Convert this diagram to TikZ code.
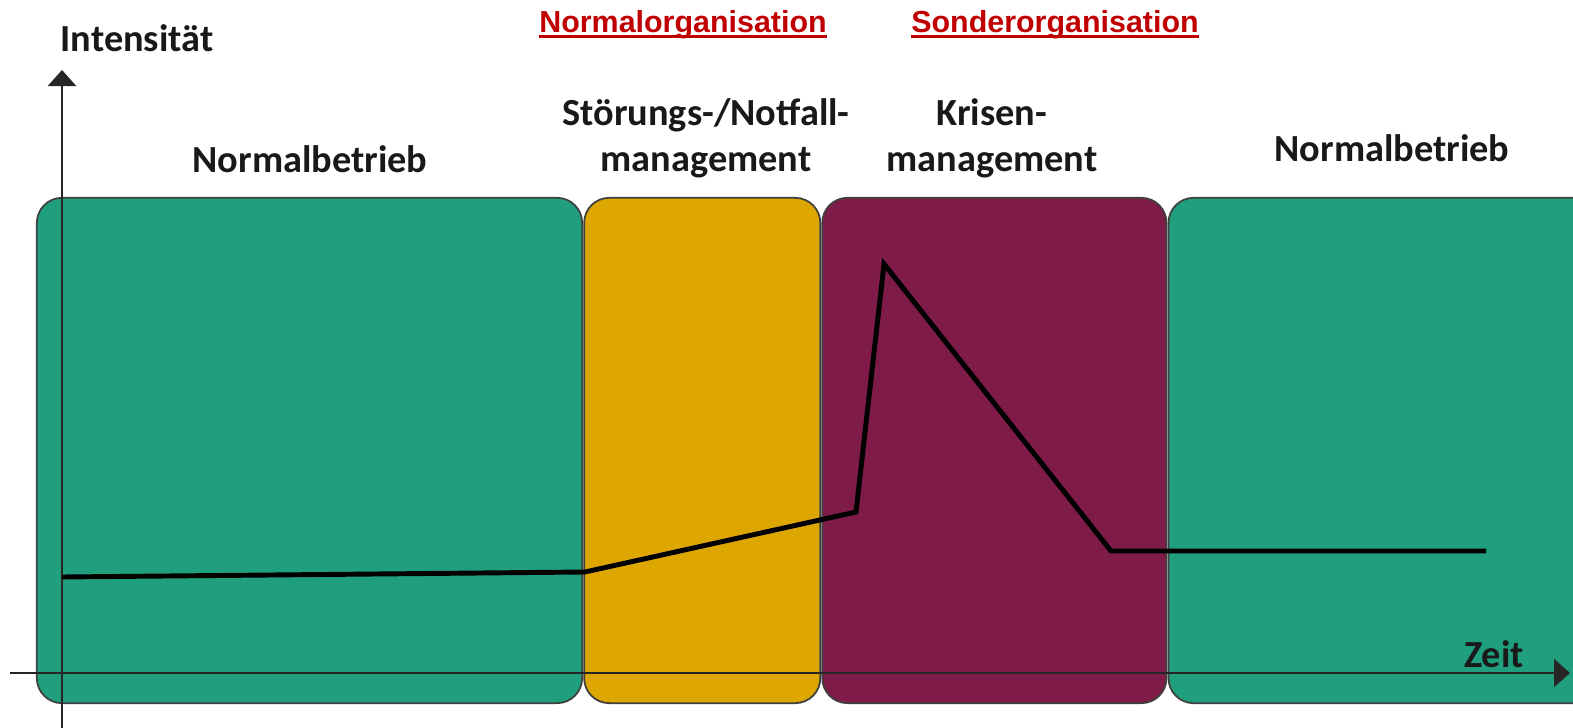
\documentclass[tikz,border=0pt]{standalone}
\usepackage{fontspec}
\setmainfont{Carlito}
\newfontfamily\headfont{Liberation Sans}
\usetikzlibrary{arrows.meta,positioning}
\definecolor{gruen}{RGB}{31,159,126}
\definecolor{gelb}{RGB}{221,166,0}
\definecolor{lila}{RGB}{126,27,72}
\definecolor{rot}{RGB}{192,0,0}
\newcommand\redline[1]{\setbox0\hbox{#1}\rlap{\rule[-1.3pt]{\wd0}{0.6pt}}\box0}
\begin{document}
\begin{tikzpicture}[x=0.01cm,y=-0.01cm,
  phase/.style={rectangle, draw=black!75, line width=0.5pt, rounded corners=0.25cm, minimum height=5.05cm, inner sep=0pt, outer sep=0pt},
  label/.style={font=\fontsize{10.9}{13.3}\selectfont\bfseries, text=black!90, align=center, inner sep=0pt, anchor=base},
  head/.style={font=\headfont\fontsize{8.65}{10}\selectfont\bfseries, text=rot, inner sep=0pt, anchor=base},
  axis/.style={draw=black!85, line width=0.7pt, -{Triangle[width=0.28cm,length=0.16cm]}},
  curve/.style={draw=black, line width=1.4pt}]
  \clip (0,0) rectangle (1573,728);

  % phases
  \node[phase, fill=gruen, minimum width=5.45cm] (normal1) at (309.5,450.5) {};
  \node[phase, fill=gelb, minimum width=2.36cm, right=0.02cm of normal1] (stoerung) {};
  \node[phase, fill=lila, minimum width=3.44cm, right=0.02cm of stoerung] (krise) {};
  \node[phase, fill=gruen, minimum width=4.32cm, right=0.02cm of krise] (normal2) {};

  % headings
  \node[head] (normorg) at (683,33) {\redline{Normalorganisation}};
  \node[head] (sondorg) at (1055,33) {\redline{Sonderorganisation}};

  % phase labels
  \node[label] (lnormal1) at (310,173) {Normalbetrieb};
  \node[label] (lstoerung) at (706,172) {Störungs-/Notfall-\\management};
  \node[label] (lkrise) at (992,172) {Krisen-\\management};
  \node[label] (lnormal2) at (1392,162) {Normalbetrieb};

  % axes
  \coordinate (ybot) at (62,728);
  \coordinate (ytop) at (62,70);
  \coordinate (xleft) at (10,673);
  \coordinate (xright) at (1570,673);
  \draw[axis] (ybot) -- (ytop);
  \draw[axis] (xleft) -- (xright);
  \node[label] (intens) at (137,52) {Intensität};
  \node[label] (zeit) at (1494,668) {Zeit};

  % intensity
  \coordinate (p0) at (62,577);
  \coordinate (p1) at (585,572);
  \coordinate (p2) at (856,512);
  \coordinate (p3) at (884,264);
  \coordinate (p4) at (1111,551);
  \coordinate (p5) at (1486,551);
  \draw[curve] (p0) -- (p1) -- (p2) -- (p3) -- (p4) -- (p5);
\end{tikzpicture}
\end{document}
